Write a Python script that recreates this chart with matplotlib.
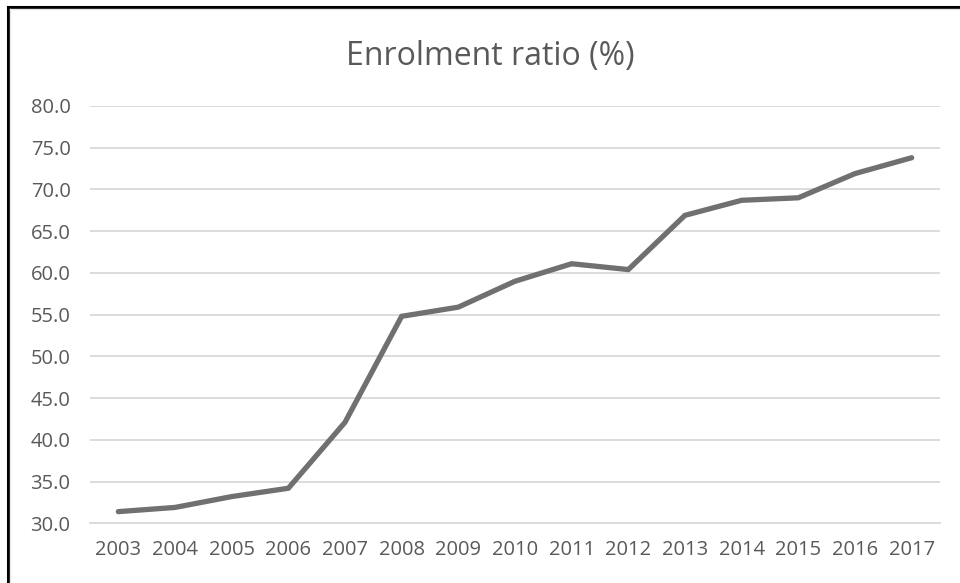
import matplotlib.pyplot as plt
from matplotlib.lines import Line2D

years = ['2003', '2004', '2005', '2006', '2007', '2008', '2009', '2010',
         '2011', '2012', '2013', '2014', '2015', '2016', '2017']
enrolment = [31.4, 31.9, 33.2, 34.2, 42.1, 54.8, 55.9, 59.0,
             61.1, 60.4, 66.9, 68.7, 69.0, 71.9, 73.8]
y_ticks = [30, 35, 40, 45, 50, 55, 60, 65, 70, 75, 80]

text_color = '#595959'
plt.rcParams['font.family'] = ['Open Sans', 'DejaVu Sans']

fig = plt.figure(figsize=(9.6, 5.83), dpi=100)
ax = fig.add_axes([0.09375, 0.1024, 0.8854, 0.7158])

x = list(range(len(years)))
ax.plot(x, enrolment, color='#707070', linewidth=3.8,
        solid_joinstyle='miter', solid_capstyle='round', zorder=3)

ax.set_xlim(-0.5, len(years) - 0.5)
ax.set_ylim(30, 80)
ax.set_xticks(x)
ax.set_xticklabels(years)
ax.set_yticks(y_ticks)
ax.set_yticklabels([f'{v:.1f}' for v in y_ticks])
ax.tick_params(axis='both', length=0, labelsize=14.5, labelcolor=text_color)
ax.tick_params(axis='y', pad=14)
ax.tick_params(axis='x', pad=12)

ax.yaxis.grid(True, color='#d9d9d9', linewidth=1.3)
ax.set_axisbelow(True)
for side in ['top', 'right', 'left']:
    ax.spines[side].set_visible(False)
ax.spines['bottom'].set_color('#d9d9d9')
ax.spines['bottom'].set_linewidth(1.3)

fig.text(490 / 960, 1 - 56 / 583, 'Enrolment ratio (%)', ha='center',
         va='center', fontsize=23, color=text_color)

# frame on the top and left edges
fig.add_artist(Line2D([8 / 960, 8 / 960], [0, 1 - 7 / 583],
                      color='black', linewidth=2.2, transform=fig.transFigure))
fig.add_artist(Line2D([8 / 960, 1], [1 - 7 / 583, 1 - 7 / 583],
                      color='black', linewidth=2.2, transform=fig.transFigure))
fig.add_artist(Line2D([10 / 960, 10 / 960], [0, 1 - 9 / 583],
                      color='#e6e6e6', linewidth=1, transform=fig.transFigure))
fig.add_artist(Line2D([10 / 960, 1], [1 - 9 / 583, 1 - 9 / 583],
                      color='#e6e6e6', linewidth=1, transform=fig.transFigure))

fig.savefig('out.png', dpi=100)
